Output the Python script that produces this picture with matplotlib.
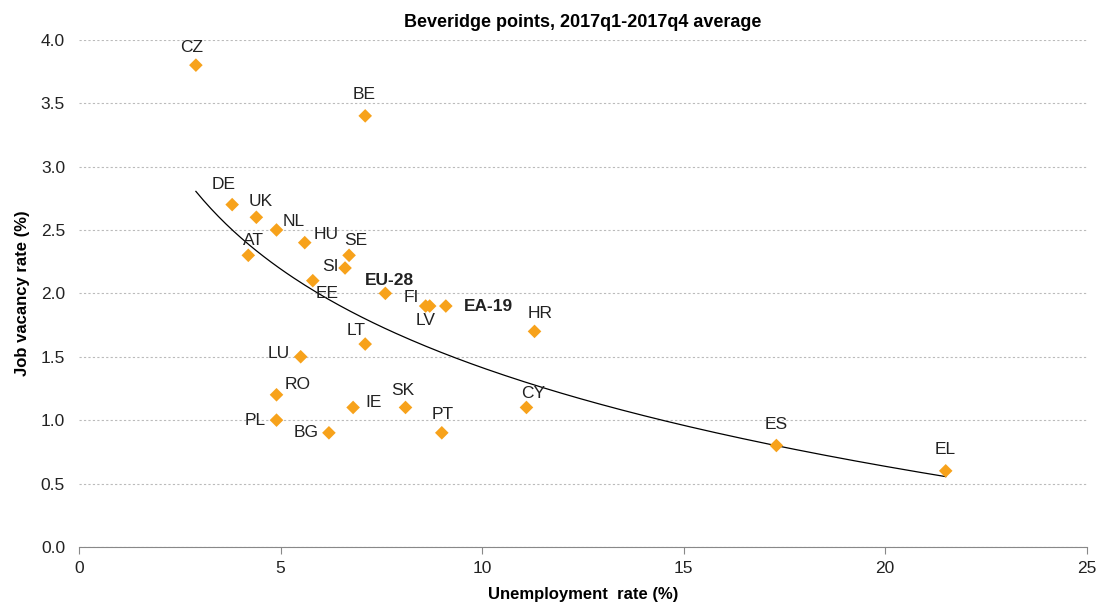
import numpy as np
import matplotlib.pyplot as plt

plt.rcParams['font.family'] = ['Liberation Sans', 'DejaVu Sans']

countries = ["CZ", "BE", "DE", "UK", "NL", "HU", "AT", "SE", "SI", "EE",
             "EU-28", "FI", "LV", "EA-19", "HR", "LT", "LU", "RO", "PL",
             "BG", "IE", "SK", "PT", "CY", "ES", "EL"]
unemployment = [2.9, 7.1, 3.8, 4.4, 4.9, 5.6, 4.2, 6.7, 6.6, 5.8,
                7.6, 8.6, 8.7, 9.1, 11.3, 7.1, 5.5, 4.9, 4.9,
                6.2, 6.8, 8.1, 9.0, 11.1, 17.3, 21.5]
vacancy = [3.8, 3.4, 2.7, 2.6, 2.5, 2.4, 2.3, 2.3, 2.2, 2.1,
           2.0, 1.9, 1.9, 1.9, 1.7, 1.6, 1.5, 1.2, 1.0,
           0.9, 1.1, 1.1, 0.9, 1.1, 0.8, 0.6]
aggregates = ["EU-28", "EA-19"]

# logarithmic trend line: y = a + b*ln(x)
trend_a, trend_b = 4.0, -1.123
trend_range = (2.9, 21.5)

# label offsets in pixels (dx, dy), dy positive = up
label_offsets = {
    "CZ": (-4, 18), "BE": (-1, 21), "DE": (-9, 20), "UK": (4, 16),
    "NL": (17, 8), "HU": (21, 8), "AT": (5, 15), "SE": (7, 15),
    "SI": (-15, 2), "EE": (14, -13), "EU-28": (4, 13), "FI": (-14, 9),
    "LV": (-4, -14), "EA-19": (43, 0), "HR": (6, 18), "LT": (-9, 14),
    "LU": (-22, 3), "RO": (21, 10), "PL": (-21, 0), "BG": (-23, 0),
    "IE": (20, 5), "SK": (-3, 17), "PT": (1, 18), "CY": (7, 14),
    "ES": (0, 21), "EL": (-1, 21),
}

fig = plt.figure(figsize=(11, 6.03), dpi=100)
ax = fig.add_axes([0.0718, 0.093, 0.9162, 0.841])

ax.scatter(unemployment, vacancy, marker="D", s=48, color="#F7A21B",
           edgecolors="none", zorder=3)

xs = np.linspace(trend_range[0], trend_range[1], 200)
ax.plot(xs, trend_a + trend_b * np.log(xs), color="black", lw=0.9, zorder=2)

px = 72 / 100
for name, x, y in zip(countries, unemployment, vacancy):
    dx, dy = label_offsets[name]
    ax.annotate(name, (x, y), xytext=(dx * px, dy * px), textcoords="offset points",
                ha="center", va="center", fontsize=12.5, color="#222222",
                fontweight="bold" if name in aggregates else "normal")

ax.set_xlim(0, 25)
ax.set_ylim(0, 4)
ax.set_xticks([0, 5, 10, 15, 20, 25])
ax.set_yticks(np.arange(0, 4.01, 0.5))
ax.set_yticklabels([f"{v:.1f}" for v in np.arange(0, 4.01, 0.5)])
ax.grid(axis="y", linestyle=(0, (2, 2)), color="#BBBBBB", lw=0.8)
ax.set_axisbelow(True)
for s in ["top", "right", "left"]:
    ax.spines[s].set_visible(False)
ax.spines["bottom"].set_color("#888888")
ax.tick_params(axis="y", length=0, labelsize=12.5, pad=10, colors="#222222")
ax.tick_params(axis="x", length=5, color="#888888", labelsize=12.5, pad=5,
               colors="#222222")

ax.set_xlabel("Unemployment  rate (%)", fontsize=12, fontweight="bold", labelpad=8)
ax.set_ylabel("Job vacancy rate (%)", fontsize=12, fontweight="bold", labelpad=8)
ax.set_title("Beveridge points, 2017q1-2017q4 average", fontsize=13,
             fontweight="bold", pad=9)

fig.savefig("out.png", dpi=100)
